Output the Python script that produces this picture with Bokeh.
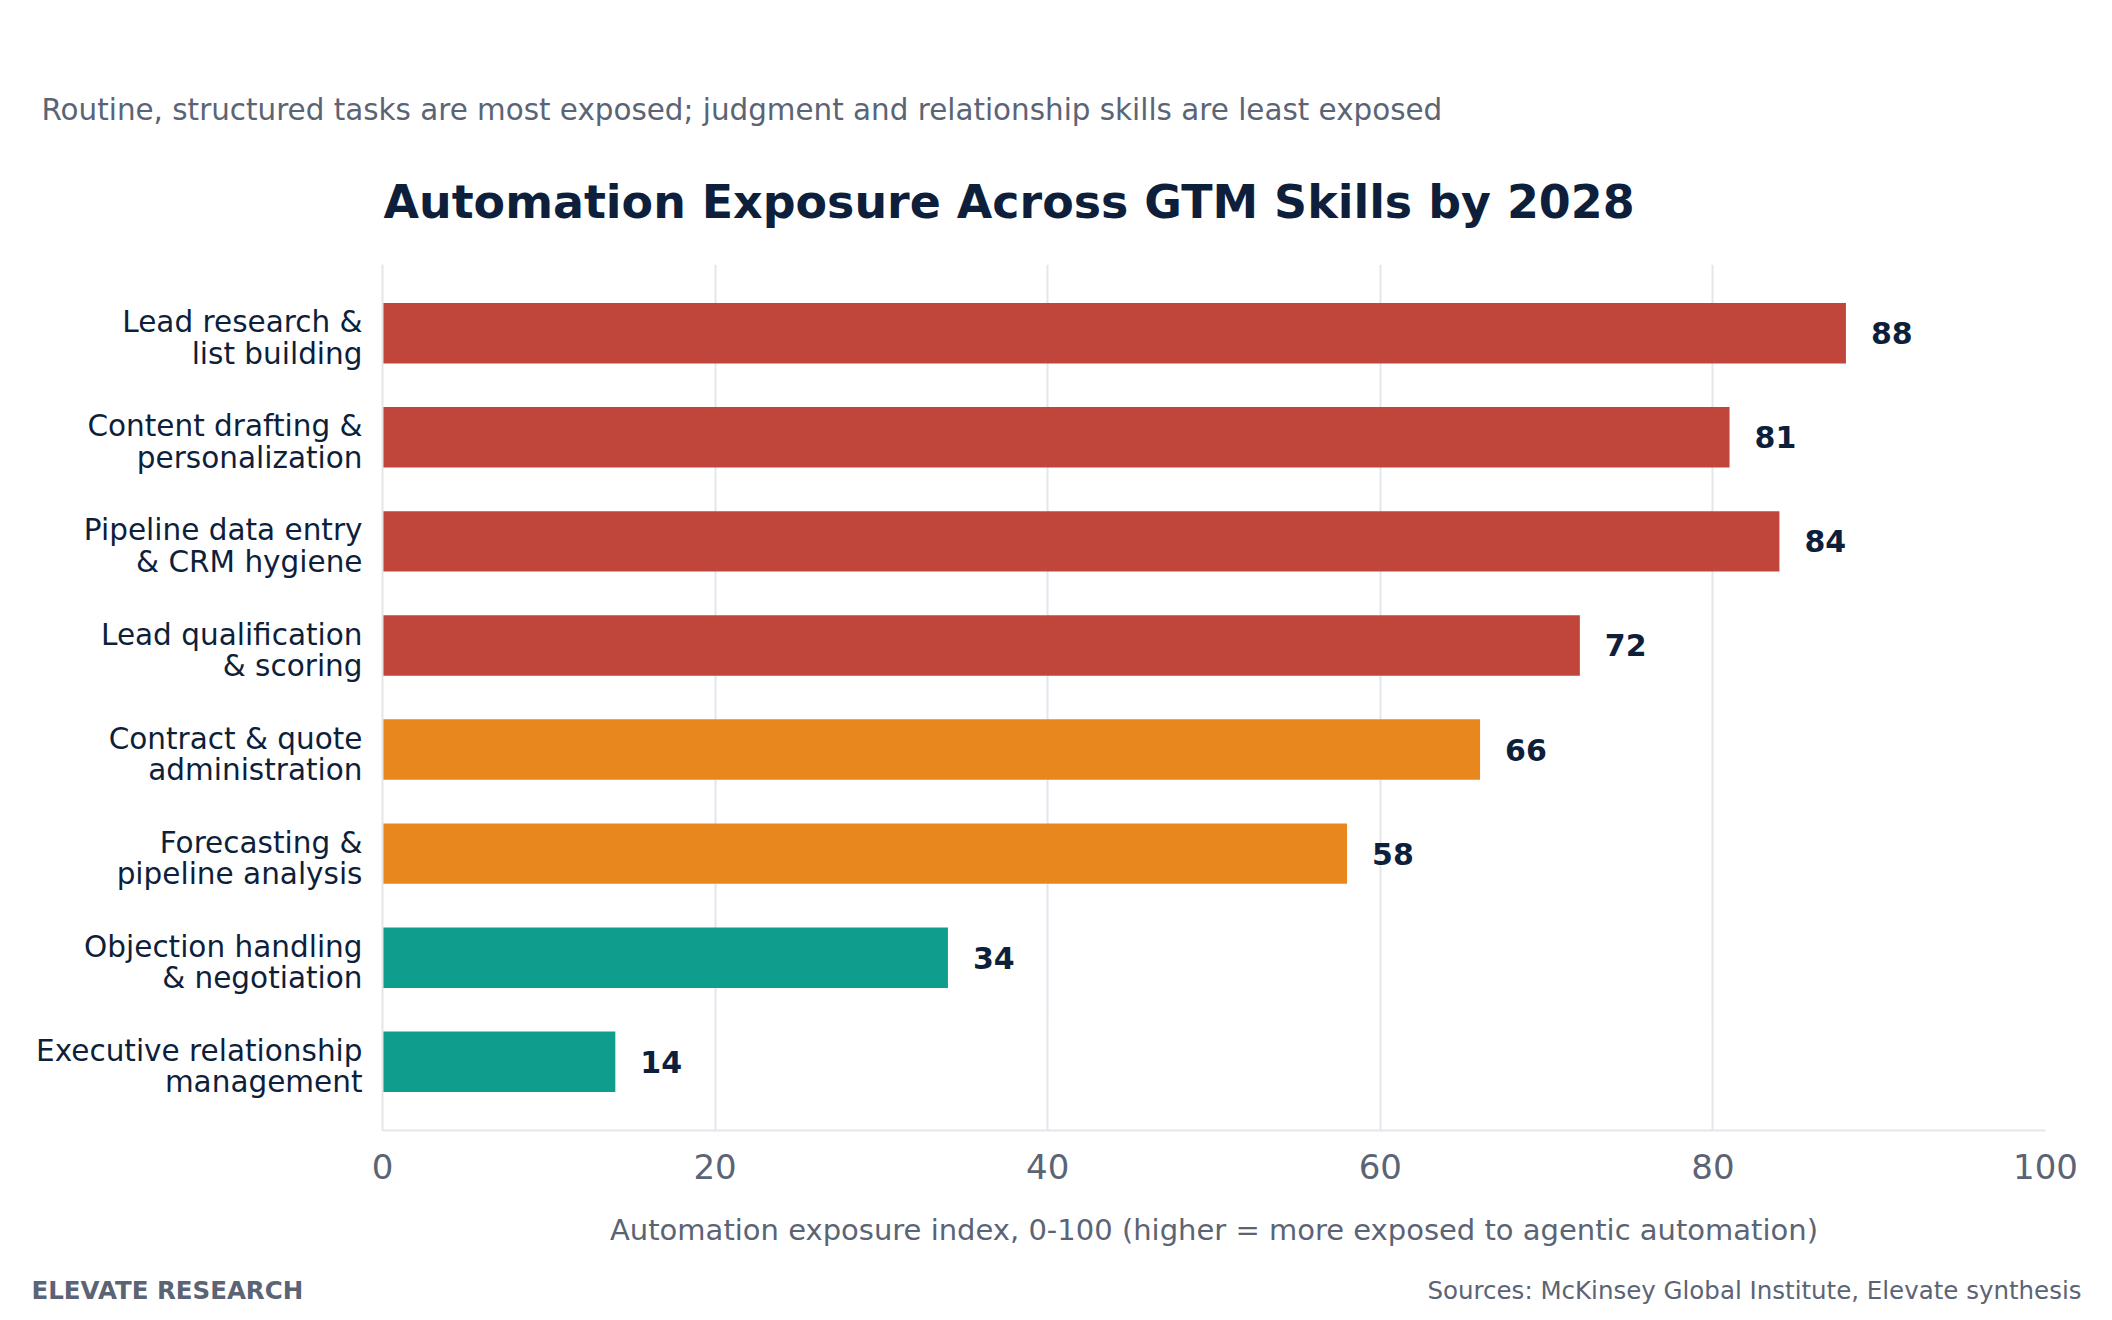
from bokeh.plotting import figure
from bokeh.models import ColumnDataSource, Range1d, FixedTicker, LabelSet
from bokeh.layouts import column
from bokeh.core.properties import value
from bokeh.embed import file_html
from bokeh.resources import INLINE

skills = [
    "Lead research &\nlist building",
    "Content drafting &\npersonalization",
    "Pipeline data entry\n& CRM hygiene",
    "Lead qualification\n& scoring",
    "Contract & quote\nadministration",
    "Forecasting &\npipeline analysis",
    "Objection handling\n& negotiation",
    "Executive relationship\nmanagement",
]
exposure = [88, 81, 84, 72, 66, 58, 34, 14]
tier = ["high", "high", "high", "high", "medium", "medium", "low", "low"]
x_ticks = [0, 20, 40, 60, 80, 100]

title_text = "Automation Exposure Across GTM Skills by 2028"
subtitle_text = "Routine, structured tasks are most exposed; judgment and relationship skills are least exposed"
x_label = "Automation exposure index, 0-100 (higher = more exposed to agentic automation)"
brand_text = "ELEVATE RESEARCH"
source_text = "Sources: McKinsey Global Institute, Elevate synthesis"

TIER_COLORS = {"high": "#C0453B", "medium": "#E8871E", "low": "#0F9D8E"}
NAVY = "#0E1F3B"
GRAY = "#5B6475"
GRID = "#E4E6EB"
FONT = "DejaVu Sans"

W = 2096
HEAD_H = 264
FOOT_H = 44
MAIN_H = 1304 - HEAD_H - FOOT_H
FRAME_L = 382
FRAME_R = 2045
FRAME_B = 1130  # canvas y of frame bottom
LABEL_NUDGE = 0.045  # small downward shift of the category labels


def text_fig(h):
    f = figure(width=W, height=h, output_backend="svg", toolbar_location=None,
               x_range=Range1d(0, W), y_range=Range1d(h, 0),
               x_axis_type=None, y_axis_type=None, min_border=0)
    f.frame_align = False
    f.outline_line_color = None
    f.grid.visible = False
    return f


# ---------- header ----------
head = text_fig(HEAD_H)
head.text(x=[FRAME_L + 1], y=[201], text=[title_text], text_font=value(FONT),
          text_font_style="bold", text_font_size="45.9px", text_color=NAVY,
          text_baseline="middle", text_align="left")
head.text(x=[41], y=[109], text=[subtitle_text], text_font=value(FONT),
          text_font_size="29.4px", text_color=GRAY,
          text_baseline="middle", text_align="left")

# ---------- main chart ----------
pos = list(range(len(skills)))
src = ColumnDataSource(dict(
    y=pos, v=exposure, c=[TIER_COLORS[t] for t in tier],
    lbl=[str(v) for v in exposure],
))

p = figure(
    width=W, height=MAIN_H, output_backend="svg", toolbar_location=None,
    x_range=Range1d(0, 100), y_range=Range1d(len(skills) - 1 + 0.66, -0.66),
    min_border_left=FRAME_L, min_border_right=W - FRAME_R, min_border_top=0,
    min_border_bottom=MAIN_H - (FRAME_B - HEAD_H),
)
p.frame_align = False
p.outline_line_color = None

p.hbar(y="y", right="v", left=0, height=0.58, color="c", source=src, line_color=None)

labels = LabelSet(x="v", y="y", text="lbl", source=src, x_offset=25,
                  text_baseline="middle", text_align="left",
                  text_font=value(FONT), text_font_style="bold", text_font_size="30px",
                  text_color=NAVY)
p.add_layout(labels)

p.xaxis.ticker = FixedTicker(ticks=x_ticks)
p.xaxis.axis_label = x_label
p.xaxis.axis_label_text_font = FONT
p.xaxis.axis_label_text_font_style = "normal"
p.xaxis.axis_label_text_font_size = "29px"
p.xaxis.axis_label_text_color = GRAY
p.xaxis.axis_label_standoff = 31
p.xaxis.major_label_text_font = FONT
p.xaxis.major_label_text_font_size = "34px"
p.xaxis.major_label_text_color = GRAY
p.xaxis.major_label_standoff = 17
p.xaxis.axis_line_color = GRID
p.xaxis.axis_line_width = 2
p.xaxis.major_tick_line_color = None
p.xaxis.minor_tick_line_color = None

label_ticks = [i + LABEL_NUDGE for i in pos]
p.yaxis.ticker = FixedTicker(ticks=label_ticks)
p.yaxis.major_label_overrides = {t: s for t, s in zip(label_ticks, skills)}
p.yaxis.major_label_text_font = FONT
p.yaxis.major_label_text_font_size = "29.5px"
p.yaxis.major_label_text_line_height = 0.92
p.yaxis.major_label_text_color = NAVY
p.yaxis.major_label_text_align = "right"
p.yaxis.major_label_standoff = 14
p.yaxis.axis_line_color = GRID
p.yaxis.axis_line_width = 2
p.yaxis.major_tick_line_color = None
p.yaxis.minor_tick_line_color = None

p.xgrid.ticker = FixedTicker(ticks=x_ticks)
p.xgrid.grid_line_color = GRID
p.xgrid.grid_line_width = 2
p.ygrid.grid_line_color = None

# ---------- footer ----------
foot = text_fig(FOOT_H)
foot.text(x=[31], y=[30], text=[brand_text], text_font=value(FONT),
          text_font_style="bold", text_font_size="24.5px", text_color=GRAY,
          text_baseline="middle", text_align="left")
foot.text(x=[2081], y=[30], text=[source_text], text_font=value(FONT),
          text_font_size="24.5px", text_color=GRAY,
          text_baseline="middle", text_align="right")

layout = column(head, p, foot, spacing=0)
open("out.html", "w").write(file_html(layout, INLINE))
